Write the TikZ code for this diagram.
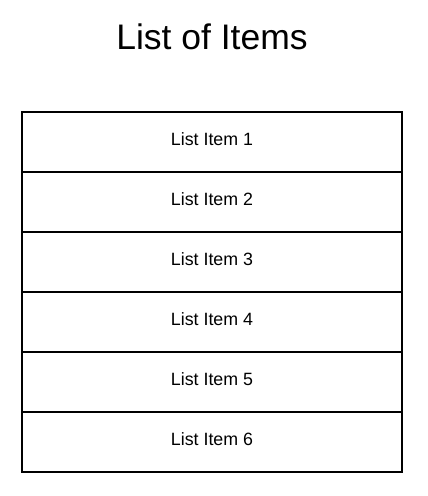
\documentclass[tikz,border=0pt]{standalone}
\usepackage{fontspec}
\setmainfont{Liberation Sans}
\usetikzlibrary{positioning}

\begin{document}
\begin{tikzpicture}[x=1pt,y=-1pt,  node distance=0pt,  row/.style={    draw,    line width=2pt,    rectangle,    minimum width=380pt,    minimum height=60pt,    inner sep=0pt,    outer sep=0pt,    text depth=6pt,    font=\fontsize{17.8}{20}\selectfont  },  heading/.style={    font=\fontsize{35.5}{40}\selectfont  }]
		\useasboundingbox (0,0) rectangle (428,496);
		% Title
		\node[heading] (title) at (212,37) {List of Items};
		% Rows
		\node[row] (item1) at (212,142) {List Item 1};
		\node[row, below=of item1.south, anchor=north] (item2) {List Item 2};
		\node[row, below=of item2.south, anchor=north] (item3) {List Item 3};
		\node[row, below=of item3.south, anchor=north] (item4) {List Item 4};
		\node[row, below=of item4.south, anchor=north] (item5) {List Item 5};
		\node[row, below=of item5.south, anchor=north] (item6) {List Item 6};
	\end{tikzpicture}
\end{document}
